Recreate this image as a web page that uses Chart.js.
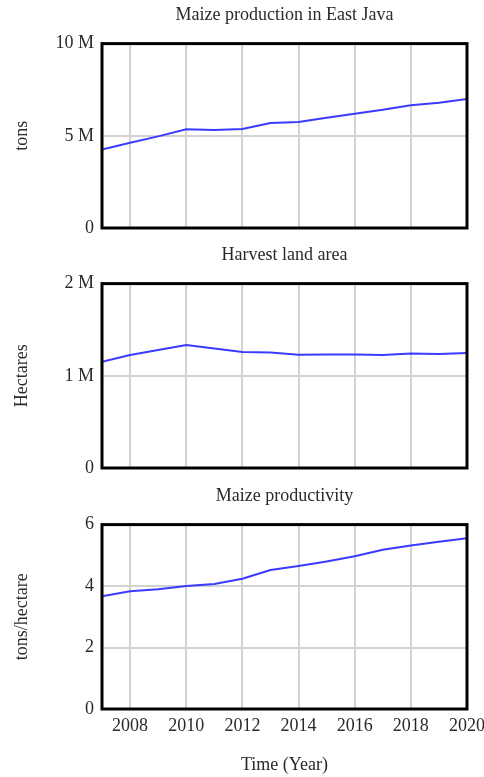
<!DOCTYPE html>
<html>
<head>
<meta charset="utf-8">
<script src="https://cdn.jsdelivr.net/npm/chart.js@4/dist/chart.umd.min.js"></script>
<style>
  html, body { margin: 0; padding: 0; background: #fff; }
  .box { position: absolute; left: 0; width: 484px; }
</style>
</head>
<body>
<div class="box" style="top:0;height:240px"><canvas id="c1"></canvas></div>
<div class="box" style="top:240px;height:240px"><canvas id="c2"></canvas></div>
<div class="box" style="top:480px;height:297px"><canvas id="c3"></canvas></div>
<script>
const years = [2007, 2008, 2009, 2010, 2011, 2012, 2013, 2014, 2015, 2016, 2017, 2018, 2019, 2020]
const yearTicks = [2008, 2010, 2012, 2014, 2016, 2018, 2020]

// tons
const production = [4250000, 4620000, 4970000, 5350000, 5310000, 5370000, 5690000,
                    5750000, 5980000, 6200000, 6410000, 6660000, 6790000, 6990000]
// hectares
const harvestArea = [1153000, 1225000, 1280000, 1333000, 1297000, 1258000, 1254000,
                     1229000, 1232000, 1232000, 1225000, 1243000, 1236000, 1247000]
// tons/hectare
const productivity = [3.67, 3.83, 3.90, 4.00, 4.07, 4.24, 4.52,
                      4.65, 4.80, 4.97, 5.18, 5.32, 5.44, 5.56]

const productionTicks = [0, 5000000, 10000000]
const areaTicks = [0, 1000000, 2000000]
const productivityTicks = [0, 2, 4, 6]

const FONT = 'Liberation Serif'
const TEXT = '#2a2a2a'

Chart.defaults.font.family = FONT
Chart.defaults.font.size = 18
Chart.defaults.color = TEXT

const frame = {
    id: 'frame',
    afterDatasetsDraw(chart){
        const a = chart.chartArea
        const ctx = chart.ctx
        ctx.save()
        ctx.strokeStyle = '#000'
        ctx.lineWidth = 3
        ctx.strokeRect(a.left, a.top, a.right - a.left, a.bottom - a.top)
        ctx.restore()
    }
}

function fmtM(v){
    return v === 0 ? '0' : (v / 1000000) + ' M'
}

function makeChart(id, title, yTitle, values, yTicks, fmt, showX){
    const ctx = document.getElementById(id).getContext('2d')
    const boxH = showX ? 297 : 240
    return new Chart(ctx, {
        type: 'line',
        data: {
            datasets: [{
                data: years.map((y, i) => ({ x: y, y: values[i] })),
                borderColor: '#3b3bff',
                borderWidth: 2,
                pointRadius: 0,
                tension: 0,
                fill: false
            }]
        },
        options: {
            responsive: true,
            maintainAspectRatio: false,
            animation: false,
            layout: { padding: { left: 0, right: 17, top: 0, bottom: 0 } },
            plugins: {
                legend: { display: false },
                tooltip: { enabled: false },
                title: {
                    display: true,
                    text: title,
                    fullSize: false,
                    color: TEXT,
                    font: { family: FONT, size: 18, weight: 'normal' },
                    padding: showX ? { top: 5, bottom: 18 } : { top: 4, bottom: 18 }
                }
            },
            scales: {
                x: {
                    type: 'linear',
                    min: years[0],
                    max: years[years.length - 1],
                    afterBuildTicks: axis => { axis.ticks = yearTicks.map(v => ({ value: v })) },
                    afterFit: axis => {
                        axis.height = showX ? boxH - 229 : boxH - 228
                        axis.paddingLeft = 0
                        axis.paddingRight = 0
                    },
                    border: { display: false },
                    grid: { color: '#d2d2d2', lineWidth: 2, drawTicks: false },
                    ticks: {
                        display: showX,
                        padding: 6,
                        maxRotation: 0,
                        autoSkip: false,
                        callback: v => String(v)
                    },
                    title: {
                        display: showX,
                        text: 'Time (Year)',
                        padding: { top: 0, bottom: 1 }
                    }
                },
                y: {
                    min: yTicks[0],
                    max: yTicks[yTicks.length - 1],
                    afterBuildTicks: axis => { axis.ticks = yTicks.map(v => ({ value: v })) },
                    afterFit: axis => {
                        axis.width = 102
                        axis.paddingTop = 0
                        axis.paddingBottom = 0
                    },
                    border: { display: false },
                    grid: { color: '#d2d2d2', lineWidth: 2, drawTicks: false },
                    ticks: { padding: 8, callback: fmt },
                    title: {
                        display: true,
                        text: yTitle,
                        padding: { top: 11, bottom: 0 }
                    }
                }
            }
        },
        plugins: [frame]
    })
}

makeChart('c1', 'Maize production in East Java', 'tons', production, productionTicks, fmtM, false)
makeChart('c2', 'Harvest land area', 'Hectares', harvestArea, areaTicks, fmtM, false)
makeChart('c3', 'Maize productivity', 'tons/hectare', productivity, productivityTicks, v => String(v), true)
</script>
</body>
</html>
